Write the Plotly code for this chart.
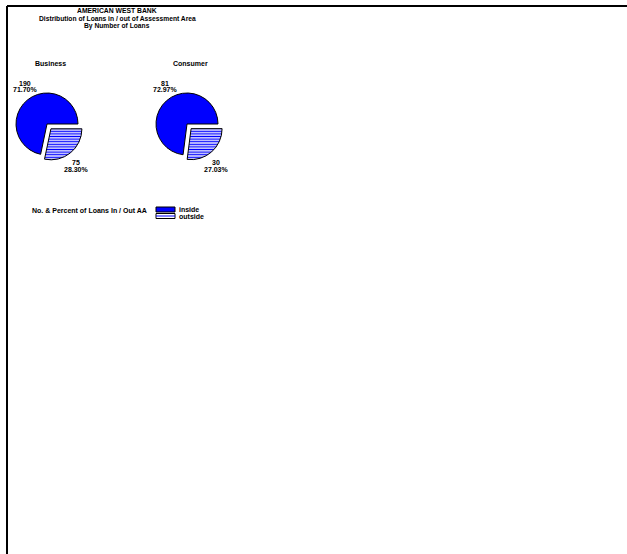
import plotly.graph_objects as go

# Canvas size in pixels
W, H = 627, 554

# Data
segments = ["outside", "inside"]
pie_names = ["Business", "Consumer"]
loan_counts = {
    "Business": [75, 190],
    "Consumer": [30, 81],
}
title_lines = [
    "AMERICAN WEST BANK",
    "Distribution of Loans in / out of Assessment Area",
    "By Number of Loans",
]
legend_caption = "No. & Percent of Loans In / Out AA"

# Style
BLUE = "#0000FF"
FONT = "Liberation Sans"
PIE_R = 31
PULL = 0.2
pie_centers = {"Business": (47, 124), "Consumer": (187, 124)}


def px_x(x):
    return x / W


def px_y(y):
    return 1 - y / H


fig = go.Figure()
annotations = []


def add_text(text, x, y, size=7, xanchor="center"):
    annotations.append(dict(
        text=f"<b>{text}</b>", x=px_x(x), y=px_y(y), xref="paper", yref="paper",
        xanchor=xanchor, yanchor="middle", showarrow=False,
        font=dict(family=FONT, size=size, color="black"),
    ))


for name in pie_names:
    cx, cy = pie_centers[name]
    vals = loan_counts[name]
    half = PIE_R * (1 + PULL)
    fig.add_trace(go.Pie(
        values=vals,
        labels=segments,
        sort=False,
        direction="clockwise",
        rotation=90,
        pull=[PULL, 0],
        marker=dict(
            colors=["white", BLUE],
            line=dict(color="black", width=1),
            pattern=dict(shape=["-", ""], fgcolor=BLUE, bgcolor="white",
                         size=2.6, solidity=0.5),
        ),
        textinfo="none",
        domain=dict(x=[px_x(cx - half), px_x(cx + half)],
                    y=[px_y(cy + half), px_y(cy - half)]),
        showlegend=False,
        hoverinfo="skip",
    ))

    # value / percent labels beside each slice
    total = sum(vals)
    out_v, in_v = vals
    add_text(f"{in_v}", cx - 22, cy - 40)
    add_text(f"{in_v / total * 100:.2f}%", cx - 22, cy - 34)
    add_text(f"{out_v}", cx + 29, cy + 39)
    add_text(f"{out_v / total * 100:.2f}%", cx + 29, cy + 45)


# Header block
add_text(title_lines[0], 117, 10.5, size=6.8)
add_text(title_lines[1], 117, 18, size=6.7)
add_text(title_lines[2], 117, 26, size=6.7)

# Pie captions
add_text(pie_names[0], 51, 63)
add_text(pie_names[1], 190, 63)

# Legend caption and entries
add_text(legend_caption, 89.5, 211)
add_text(segments[1], 177, 209.5, xanchor="left")
add_text(segments[0], 177, 216, xanchor="left")

shapes = [
    # frame lines along the top and left
    dict(type="line", xref="paper", yref="paper", x0=px_x(7), x1=1,
         y0=px_y(6), y1=px_y(6), line=dict(color="black", width=2)),
    dict(type="line", xref="paper", yref="paper", x0=px_x(7), x1=px_x(7),
         y0=px_y(6), y1=0, line=dict(color="black", width=2)),
    # legend swatch: inside
    dict(type="rect", xref="paper", yref="paper", x0=px_x(156), x1=px_x(175),
         y0=px_y(212), y1=px_y(207), fillcolor=BLUE,
         line=dict(color="black", width=1)),
    # legend swatch: outside (striped)
    dict(type="rect", xref="paper", yref="paper", x0=px_x(156), x1=px_x(175),
         y0=px_y(218.5), y1=px_y(213.5), fillcolor="white",
         line=dict(color="black", width=1)),
    dict(type="line", xref="paper", yref="paper", x0=px_x(156), x1=px_x(175),
         y0=px_y(216), y1=px_y(216), line=dict(color=BLUE, width=1)),
]

fig.update_layout(
    width=W, height=H,
    margin=dict(l=0, r=0, t=0, b=0, autoexpand=False),
    paper_bgcolor="white",
    plot_bgcolor="white",
    annotations=annotations,
    shapes=shapes,
    showlegend=False,
)

fig.write_html("out.html")
